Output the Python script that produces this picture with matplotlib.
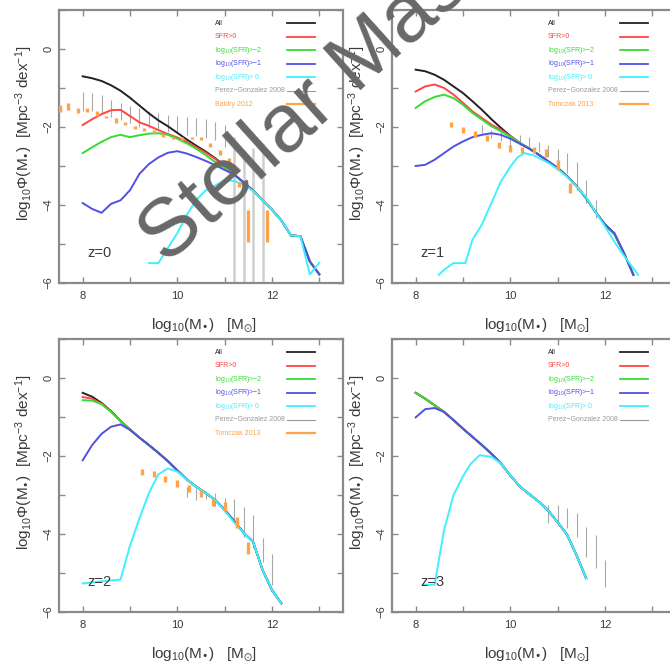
import matplotlib
matplotlib.use('Agg')
import matplotlib.pyplot as plt

plt.rcParams['font.family'] = ['Liberation Sans', 'DejaVu Sans']
plt.rcParams['mathtext.default'] = 'regular'

# Stellar mass functions, log10(M*) grid and log10(phi) per SFR cut
z0_mass = [8.0, 8.2, 8.4, 8.6, 8.8, 9.0, 9.2, 9.4, 9.6, 9.8, 10.0, 10.2, 10.4,
           10.6, 10.8, 11.0, 11.2, 11.4, 11.6, 11.8, 12.0, 12.2, 12.4, 12.6, 12.8, 13.0]
z0_all = [-0.70, -0.75, -0.82, -0.93, -1.07, -1.25, -1.45, -1.65, -1.83, -1.98, -2.15, -2.32, -2.48,
          -2.63, -2.80, -3.00, -3.22, -3.42, -3.63, -3.88, -4.12, -4.40, -4.78, -4.80, -5.45, -5.78]
z0_sfr0 = [-1.95, -1.80, -1.67, -1.57, -1.56, -1.72, -1.88, -1.97, -2.08, -2.18, -2.27, -2.38, -2.52,
           -2.66, -2.82, -3.01, -3.22, -3.42, -3.63, -3.88, -4.12, -4.40, -4.78, -4.80, -5.45, -5.78]
z0_gt2 = [-2.67, -2.52, -2.38, -2.26, -2.20, -2.26, -2.21, -2.17, -2.16, -2.20, -2.30, -2.42, -2.56,
          -2.72, -2.90, -3.05, -3.22, -3.42, -3.63, -3.88, -4.12, -4.40, -4.78, -4.80, -5.45, -5.78]
z0_gt1 = [-3.95, -4.10, -4.20, -3.97, -3.88, -3.62, -3.20, -2.95, -2.78, -2.66, -2.62, -2.68, -2.77,
          -2.87, -2.98, -3.10, -3.22, -3.42, -3.63, -3.88, -4.12, -4.40, -4.78, -4.80, -5.45, -5.78]
z0_gt0_mass = [9.4, 9.6, 9.8, 10.0, 10.2, 10.4, 10.6, 10.8, 11.0, 11.2, 11.4, 11.6, 11.8,
               12.0, 12.2, 12.4, 12.6, 12.8, 13.0]
z0_gt0 = [-5.49, -5.49, -5.10, -4.72, -4.25, -3.87, -3.62, -3.50, -3.37, -3.38, -3.48, -3.64, -3.88,
          -4.12, -4.40, -4.78, -4.80, -5.78, -5.48]

z1_mass = [8.0, 8.2, 8.4, 8.6, 8.8, 9.0, 9.2, 9.4, 9.6, 9.8, 10.0, 10.2, 10.4,
           10.6, 10.8, 11.0, 11.2, 11.4, 11.6, 11.8, 12.0, 12.2, 12.4, 12.6]
z1_all = [-0.53, -0.57, -0.66, -0.79, -0.96, -1.13, -1.34, -1.56, -1.80, -2.02, -2.23, -2.41, -2.55,
          -2.71, -2.88, -3.05, -3.26, -3.52, -3.82, -4.18, -4.50, -4.75, -5.23, -5.79]
z1_sfr0 = [-1.09, -0.96, -0.91, -1.00, -1.17, -1.38, -1.60, -1.77, -1.94, -2.07, -2.24, -2.41, -2.55,
           -2.71, -2.88, -3.05, -3.26, -3.52, -3.82, -4.18, -4.50, -4.75, -5.23, -5.79]
z1_gt2 = [-1.51, -1.34, -1.23, -1.17, -1.26, -1.43, -1.64, -1.81, -1.98, -2.11, -2.25, -2.41, -2.55,
          -2.71, -2.88, -3.05, -3.26, -3.52, -3.82, -4.18, -4.50, -4.75, -5.23, -5.79]
z1_gt1 = [-3.00, -2.97, -2.84, -2.67, -2.50, -2.37, -2.26, -2.20, -2.16, -2.20, -2.30, -2.43, -2.56,
          -2.71, -2.88, -3.05, -3.26, -3.52, -3.82, -4.18, -4.50, -4.72, -5.23, -5.79]
z1_gt0_mass = [8.49, 8.6, 8.8, 9.05, 9.2, 9.4, 9.6, 9.8, 10.0, 10.15, 10.3, 10.5, 10.8,
               11.0, 11.2, 11.4, 11.6, 11.8, 12.0, 12.2, 12.4, 12.7]
z1_gt0 = [-5.79, -5.66, -5.49, -5.49, -4.89, -4.50, -3.95, -3.40, -3.02, -2.78, -2.67, -2.73, -2.92,
          -3.08, -3.28, -3.53, -3.80, -4.18, -4.55, -4.95, -5.30, -5.79]

z2_mass = [8.0, 8.2, 8.4, 8.6, 8.8, 9.0, 9.2, 9.4, 9.6, 9.8, 10.0, 10.2, 10.4,
           10.6, 10.8, 11.0, 11.2, 11.4, 11.6, 11.8, 12.0, 12.2]
z2_all = [-0.38, -0.48, -0.64, -0.85, -1.10, -1.32, -1.53, -1.72, -1.92, -2.13, -2.37, -2.60, -2.79,
          -2.95, -3.13, -3.38, -3.67, -3.97, -4.20, -4.92, -5.44, -5.78]
z2_sfr0 = [-0.49, -0.53, -0.66, -0.86, -1.10, -1.32, -1.53, -1.72, -1.92, -2.13, -2.37, -2.60, -2.79,
           -2.95, -3.13, -3.38, -3.67, -3.97, -4.20, -4.92, -5.44, -5.78]
z2_gt2 = [-0.57, -0.58, -0.67, -0.87, -1.11, -1.32, -1.53, -1.72, -1.92, -2.13, -2.37, -2.60, -2.79,
          -2.95, -3.13, -3.38, -3.67, -3.97, -4.20, -4.92, -5.44, -5.78]
z2_gt1 = [-2.11, -1.72, -1.43, -1.25, -1.19, -1.33, -1.53, -1.72, -1.92, -2.13, -2.37, -2.60, -2.79,
          -2.95, -3.13, -3.38, -3.67, -3.97, -4.20, -4.92, -5.44, -5.78]
z2_gt0_mass = [8.0, 8.5, 8.8, 9.0, 9.2, 9.4, 9.6, 9.8, 10.0, 10.2, 10.4, 10.6, 10.8,
               11.0, 11.2, 11.4, 11.6, 11.8, 12.0, 12.2]
z2_gt0 = [-5.27, -5.20, -5.17, -4.30, -3.60, -2.95, -2.47, -2.32, -2.40, -2.60, -2.79, -2.95, -3.13,
          -3.40, -3.70, -3.97, -4.20, -4.92, -5.44, -5.78]

z3_mass = [8.0, 8.2, 8.4, 8.6, 8.8, 9.0, 9.2, 9.4, 9.6, 9.8, 10.0, 10.2, 10.4,
           10.6, 10.8, 11.0, 11.2, 11.4, 11.6]
z3_all = [-0.38, -0.53, -0.70, -0.87, -1.08, -1.30, -1.51, -1.72, -1.94, -2.19, -2.50, -2.78, -2.98,
          -3.17, -3.40, -3.70, -4.02, -4.55, -5.13]
z3_gt1 = [-1.01, -0.80, -0.77, -0.87, -1.08, -1.30, -1.51, -1.72, -1.94, -2.19, -2.50, -2.78, -2.98,
          -3.17, -3.40, -3.70, -4.02, -4.55, -5.13]
z3_gt0_mass = [8.17, 8.4, 8.6, 8.8, 9.0, 9.15, 9.35, 9.6, 9.8, 10.0, 10.2, 10.4,
               10.6, 10.8, 11.0, 11.2, 11.4, 11.6]
z3_gt0 = [-5.30, -5.30, -3.90, -3.00, -2.52, -2.22, -1.98, -2.02, -2.19, -2.50, -2.78, -2.98,
          -3.17, -3.40, -3.70, -4.02, -4.55, -5.13]

# Perez-Gonzalez 2008: mass, lower and upper bound of log10(phi)
pg0_mass = [8.0, 8.2, 8.4, 8.6, 8.8, 9.0, 9.2, 9.4, 9.6, 9.8, 10.0, 10.2, 10.4, 10.6, 10.8,
            11.0, 11.2, 11.4, 11.6, 11.8]
pg0_lo = [-1.60, -1.60, -1.65, -1.74, -1.82, -1.90, -2.00, -2.03, -2.08, -2.13, -2.16, -2.20, -2.22,
          -2.27, -2.33, -2.52, -7.0, -7.0, -7.0, -7.0]
pg0_hi = [-1.10, -1.13, -1.18, -1.30, -1.38, -1.47, -1.52, -1.60, -1.64, -1.69, -1.73, -1.75, -1.77,
          -1.80, -1.87, -1.96, -2.25, -2.60, -2.55, -2.40]

pg1_mass = [9.4, 9.6, 9.8, 10.0, 10.2, 10.4, 10.6, 10.8, 11.0, 11.2, 11.4, 11.6, 11.8]
pg1_lo = [-2.15, -2.29, -2.37, -2.50, -2.46, -2.55, -2.63, -2.76, -3.02, -3.19, -3.62, -3.95, -4.33]
pg1_hi = [-1.95, -2.08, -2.12, -2.21, -2.21, -2.25, -2.38, -2.46, -2.57, -2.67, -2.89, -3.36, -3.87]

pg2_mass = [10.2, 10.4, 10.6, 10.8, 11.0, 11.2, 11.4, 11.6, 11.8, 12.0]
pg2_lo = [-3.06, -3.14, -3.10, -3.28, -3.46, -3.73, -4.07, -4.37, -4.71, -5.31]
pg2_hi = [-2.79, -2.84, -2.90, -2.94, -3.07, -3.11, -3.30, -3.51, -4.11, -4.50]

pg3_mass = [10.8, 11.0, 11.2, 11.4, 11.6, 11.8, 12.0]
pg3_lo = [-3.73, -3.77, -3.85, -4.07, -4.58, -4.88, -5.35]
pg3_hi = [-3.26, -3.26, -3.34, -3.47, -3.81, -4.03, -4.67]

# Baldry 2012 (z=0) and Tomczak 2013 (z=1, z=2)
bal_mass = [7.52, 7.7, 7.9, 8.1, 8.3, 8.5, 8.7, 8.9, 9.1, 9.3, 9.5, 9.7, 9.9, 10.1,
            10.3, 10.5, 10.7, 10.9, 11.1, 11.3, 11.5, 11.9]
bal_lo = [-1.62, -1.56, -1.64, -1.62, -1.72, -1.77, -1.90, -1.95, -2.05, -2.10, -2.15, -2.26, -2.31, -2.33,
          -2.31, -2.33, -2.51, -2.72, -2.95, -3.54, -4.95, -4.95]
bal_hi = [-1.44, -1.38, -1.51, -1.50, -1.59, -1.72, -1.77, -1.87, -1.97, -2.03, -2.08, -2.18, -2.26, -2.26,
          -2.26, -2.26, -2.41, -2.59, -2.79, -3.41, -4.13, -4.13]

tom1_mass = [8.75, 9.0, 9.25, 9.5, 9.75, 10.0, 10.25, 10.5, 10.75, 11.0, 11.25]
tom1_lo = [-2.01, -2.16, -2.25, -2.35, -2.55, -2.63, -2.67, -2.67, -2.76, -3.10, -3.70]
tom1_hi = [-1.86, -2.01, -2.09, -2.21, -2.38, -2.46, -2.52, -2.50, -2.57, -2.85, -3.43]

tom2_mass = [9.25, 9.5, 9.75, 10.0, 10.25, 10.5, 10.75, 11.0, 11.25, 11.5]
tom2_lo = [-2.49, -2.53, -2.66, -2.79, -2.92, -3.04, -3.28, -3.40, -3.85, -4.52]
tom2_hi = [-2.34, -2.38, -2.50, -2.62, -2.74, -2.87, -3.09, -3.17, -3.56, -4.20]

c_all = '#222222'
c_sfr0 = '#ff4545'
c_gt2 = '#33dd33'
c_gt1 = '#5050e6'
c_gt0 = '#3ff0ff'
c_pg = '#a8a8a8'
c_obs = '#ffa24a'
c_frame = '#8a8a8a'
c_text = '#3a3a3a'

key_labels = ['All', 'SFR>0', 'log$_{10}$(SFR)>\u22122', 'log$_{10}$(SFR)>\u22121',
              'log$_{10}$(SFR)> 0', 'Perez\u2212Gonzalez 2008']
key_colors = [c_all, c_sfr0, c_gt2, c_gt1, c_gt0, '#9a9a9a']
key_widths = [1.3, 1.3, 1.3, 1.3, 1.3, 0.8]


def setup_axes(ax):
    ax.set_xlim(7.5, 13.5)
    ax.set_ylim(-6, 1)
    ax.set_xticks(range(8, 14))
    ax.set_xticklabels(['8', '', '10', '', '12', ''])
    ax.set_yticks(range(-6, 2))
    ax.set_yticklabels(['\u22126', '', '\u22124', '', '\u22122', '', '0', ''],
                       rotation=90, va='center')
    ax.tick_params(direction='in', length=4, width=1, color=c_frame,
                   top=True, right=True, labelsize=8, labelcolor=c_text)
    ax.tick_params(axis='x', pad=6)
    ax.tick_params(axis='y', pad=4)
    for s in ax.spines.values():
        s.set_color(c_frame)
        s.set_linewidth(1.6)
    ax.set_xlabel('log$_{10}$(M$_{\u2022}$)   [M$_{\\odot}$]', fontsize=11, color=c_text)
    ax.set_ylabel('log$_{10}$\u03a6(M$_{\u2022}$)  [Mpc$^{-3}$ dex$^{-1}$]', fontsize=11, color=c_text)
    ax.xaxis.set_label_coords(0.51, -0.122)
    ax.yaxis.set_label_coords(-0.085, 0.55)


def add_key(ax, labels, colors, widths):
    for i in range(len(labels)):
        y = 0.952 - 0.0495 * i
        ax.text(0.549, y, labels[i], transform=ax.transAxes, color=colors[i],
                fontsize=5, ha='left', va='center')
        ax.plot([0.803, 0.902], [y, y], transform=ax.transAxes, color=colors[i], lw=widths[i])


def draw_panel(ax, mass, phi_all, phi_sfr0, phi_gt2, phi_gt1, mass0, phi_gt0,
               pg, obs, obs_name, ztext):
    setup_axes(ax)
    pg_mass, pg_lo, pg_hi = pg
    for m, lo, hi in zip(pg_mass, pg_lo, pg_hi):
        if lo < -6:
            ax.vlines(m, lo, hi, color='#cfcfcf', lw=1.8, zorder=1)
        else:
            ax.vlines(m, lo, hi, color=c_pg, lw=0.8, zorder=1)
    ax.plot(mass, phi_all, color=c_all, lw=1.4, zorder=2)
    ax.plot(mass, phi_sfr0, color=c_sfr0, lw=1.4, zorder=2)
    ax.plot(mass, phi_gt2, color=c_gt2, lw=1.4, zorder=2)
    ax.plot(mass, phi_gt1, color=c_gt1, lw=1.4, zorder=2)
    ax.plot(mass0, phi_gt0, color=c_gt0, lw=1.4, zorder=2)
    labels = list(key_labels)
    colors = list(key_colors)
    widths = list(key_widths)
    if obs is not None:
        obs_mass, obs_lo, obs_hi = obs
        ax.vlines(obs_mass, obs_lo, obs_hi, color=c_obs, lw=2.4, zorder=3)
        labels.append(obs_name)
        colors.append(c_obs)
        widths.append(1.6)
    add_key(ax, labels, colors, widths)
    ax.text(8.1, -5.22, ztext, fontsize=10.5, color=c_text, ha='left', va='center')


fig = plt.figure(figsize=(6.7, 6.63), dpi=100)
w = 284 / 670.0
h = 273 / 663.0
ax0 = fig.add_axes([59 / 670.0, 1 - 283 / 663.0, w, h])
ax1 = fig.add_axes([392 / 670.0, 1 - 283 / 663.0, w, h])
ax2 = fig.add_axes([59 / 670.0, 1 - 612 / 663.0, w, h])
ax3 = fig.add_axes([392 / 670.0, 1 - 612 / 663.0, w, h])

draw_panel(ax0, z0_mass, z0_all, z0_sfr0, z0_gt2, z0_gt1, z0_gt0_mass, z0_gt0,
           (pg0_mass, pg0_lo, pg0_hi), (bal_mass, bal_lo, bal_hi), 'Baldry 2012', 'z=0')
draw_panel(ax1, z1_mass, z1_all, z1_sfr0, z1_gt2, z1_gt1, z1_gt0_mass, z1_gt0,
           (pg1_mass, pg1_lo, pg1_hi), (tom1_mass, tom1_lo, tom1_hi), 'Tomczak 2013', 'z=1')
draw_panel(ax2, z2_mass, z2_all, z2_sfr0, z2_gt2, z2_gt1, z2_gt0_mass, z2_gt0,
           (pg2_mass, pg2_lo, pg2_hi), (tom2_mass, tom2_lo, tom2_hi), 'Tomczak 2013', 'z=2')
draw_panel(ax3, z3_mass, z3_all, z3_all, z3_all, z3_gt1, z3_gt0_mass, z3_gt0,
           (pg3_mass, pg3_lo, pg3_hi), None, None, 'z=3')

# watermark across the top half
fig.text(0.248, 0.600, 'Stellar Mass', rotation=42, rotation_mode='anchor',
         ha='left', va='baseline', fontsize=59, color='#686868',
         family='Liberation Sans', zorder=10)

fig.savefig('out.png', dpi=100)
